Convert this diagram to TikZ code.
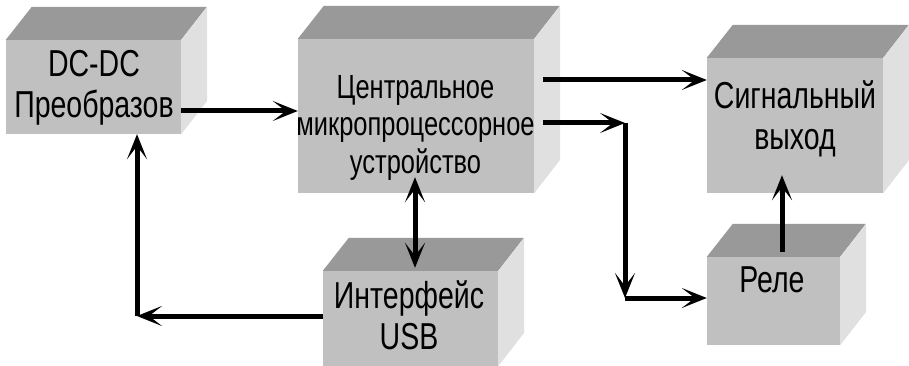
\documentclass[tikz,border=0pt]{standalone}
\usepackage{fontspec}
\setmainfont[FakeStretch=0.76]{Liberation Sans}
\usetikzlibrary{arrows.meta}
\definecolor{frontgray}{HTML}{C0C0C0}
\definecolor{topgray}{HTML}{999999}
\definecolor{sidegray}{HTML}{E0E0E0}
\tikzset{
  face/.style={fill=frontgray, inner sep=0pt},
  big/.style={align=center, font=\fontsize{37.5}{41}\selectfont},
  small/.style={align=center, font=\fontsize{33.5}{37.5}\selectfont},
  arr/.style={line width=5pt, -{Stealth[length=25pt, width=20pt, inset=13pt]}},
  arrr/.style={line width=5pt, {Stealth[length=25pt, width=20pt, inset=13pt]}-{Stealth[length=25pt, width=20pt, inset=13pt]}}
}
\newcommand{\kubik}[4]{%
  \node[face, minimum width=#3pt, minimum height=#4pt] (#1) at (#2) {};
  \fill[topgray] (#1.north west) -- ++(26,33) -- ++(#3,0) -- (#1.north east) -- cycle;
  \fill[sidegray] (#1.north east) -- ++(26,33) -- ++(0,-#4) -- (#1.south east) -- cycle;
}
\begin{document}
\begin{tikzpicture}[x=1pt, y=1pt]
    \useasboundingbox (0,0) rectangle (909,-366);

    \kubik{dc}{93.5,-87}{175}{94}
    \kubik{cpu}{416,-116}{236}{154}
    \kubik{sig}{795,-125.5}{176}{135}
    \kubik{rele}{773.5,-301}{133}{88}
    \kubik{usb}{410.5,-318.5}{175}{95}

    \node[big] (dctext) at (94,-88) {DC-DC\\Преобразов};
    \node[small] (cputext) at (415.5,-127.5) {Центральное\\микропроцессорное\\устройство};
    \node[big] (sigtext) at (795,-118.5) {Сигнальный\\выход};
    \node[big] (reletext) at (772,-279.5) {Реле};
    \node[big] (usbtext) at (409,-315) {Интерфейс\\USB};

    \coordinate (k1) at (625,-123);
    \coordinate (k2) at (625,-298);
    \coordinate (k3) at (137,-316);

    \draw[arr] ([yshift=-24]dc.east) -- ([yshift=-24]dc.east -| cpu.west);
    \draw[arr] ([xshift=9,yshift=36]cpu.east) -- ([yshift=36]cpu.east -| sig.west);
    \draw[arr] ([xshift=9,yshift=-7]cpu.east) -- (k1);
    \draw[arr] (k1) -- (k2);
    \draw[arr] (k2) -- (k2 -| rele.west);
    \draw[arr] ([xshift=8.5,yshift=5]rele.north) -- ([xshift=8.5,yshift=18]rele.north |- sig.south);
    \draw[arrr] ([xshift=4.5,yshift=3]usb.north) -- ([xshift=4.5,yshift=16]usb.north |- cpu.south);
    \draw[arr] ([yshift=2.5]usb.west) -- (k3);
    \draw[arr] (k3) -- (k3 |- dc.south);
\end{tikzpicture}
\end{document}
